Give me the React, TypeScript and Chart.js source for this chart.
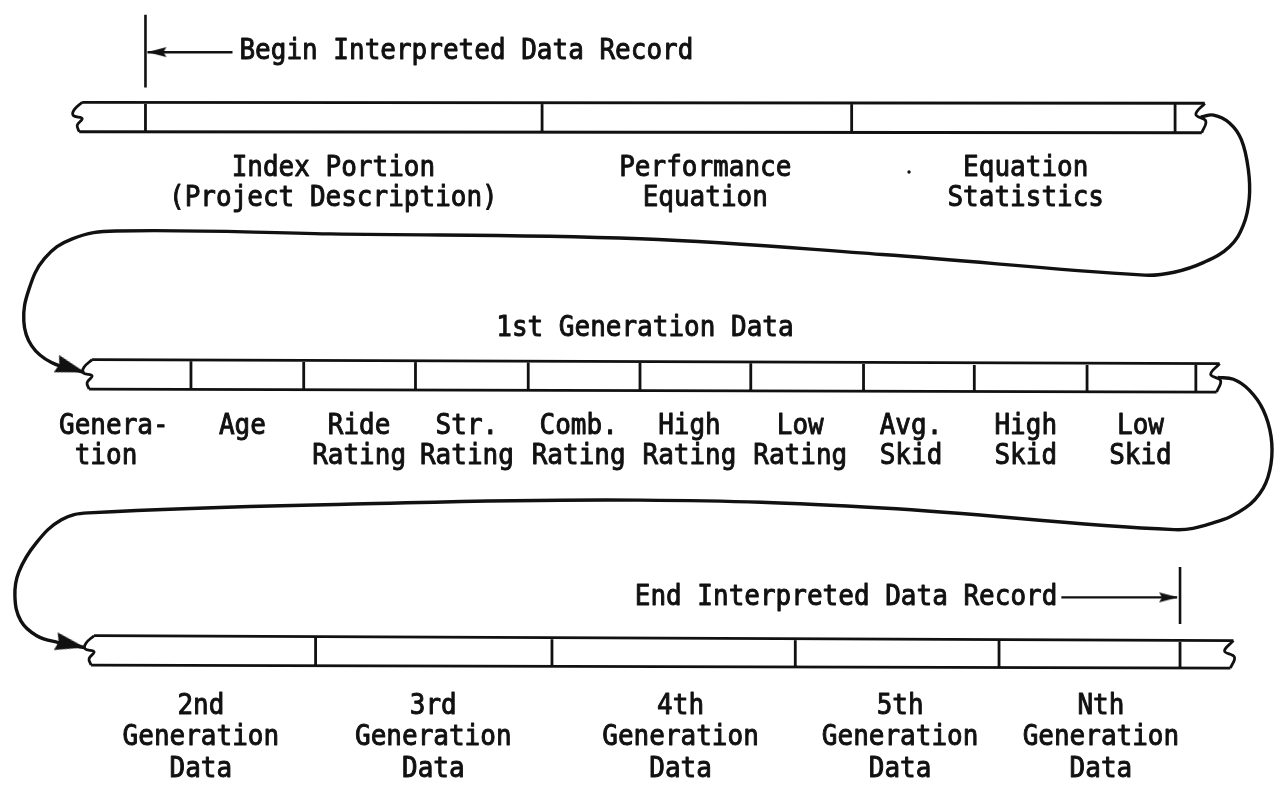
import React, { useEffect, useRef } from "react";
import { Chart, registerables } from "chart.js";

Chart.register(...registerables);

// ---- data (pixel space of a 1280 x 791 diagram) ----
const rowLeft = [76, 86, 88];
const rowRight = [1211, 1226, 1240];
const rowTopL = [97, 359, 640];
const rowTopR = [98, 363, 645];
const rowBottomL = [127, 389, 670];
const rowBottomR = [128, 392, 673];

const row1Dividers = [140, 541, 854, 1181];
const row2Dividers = [186, 300, 413, 527, 640, 752, 866, 978, 1092, 1202];
const row3Dividers = [312, 551, 797, 1003, 1186];

const leftNotchDX = [0, -8, -9, 0, -5, -3];
const leftNotchFY = [0, 0.25, 0.45, 0.55, 0.78, 1];
const rightNotchDX = [0, -9, 1, -3];
const rightNotchFY = [0, 0.38, 0.6, 1];

const loop1X = [1207, 1220, 1236, 1248, 1255, 1256, 1250, 1236, 1210, 1180, 1150, 885, 640, 327, 110, 66, 38, 22, 17, 25, 45, 78];
const loop1Y = [112, 110, 118, 135, 165, 195, 222, 244, 260, 270, 273, 252, 236, 231, 228, 236, 256, 288, 320, 345, 362, 372];
const loop2X = [1224, 1240, 1256, 1270, 1278, 1278, 1270, 1252, 1220, 1180, 885, 640, 350, 82, 55, 30, 12, 8, 14, 30, 52, 78];
const loop2Y = [377, 379, 390, 410, 437, 465, 490, 510, 525, 532, 510, 502, 506, 515, 522, 545, 575, 600, 625, 640, 647, 652];

const markerX = [140, 1186];
const markerY1 = [8, 570];
const markerY2 = [82, 628];
const pointerX1 = [228, 1066];
const pointerX2 = [142, 1183];
const pointerY = [46, 601];

const arrowTipX = [142, 1184, 79, 79];
const arrowTipY = [46, 601, 372, 652];
const arrowAngle = [180, 0, 17, 12];
const arrowBig = [false, false, true, true];

const speckX = [912];
const speckY = [168];

const headerTexts = ["Begin Interpreted Data Record", "End Interpreted Data Record", "1st Generation Data"];
const headerX = [235, 1062, 645];
const headerY = [45, 601, 327];
const headerAlign = ["left", "right", "center"];

const row1Lines = [
  ["Index Portion", "(Project Description)"],
  ["Performance", "Equation"],
  ["Equation", "Statistics"],
];
const row1X = [330, 706, 1030];
const row1LineY = [164, 195];

const row2Lines = [
  ["Genera-", "tion "],
  ["Age"],
  ["Ride", "Rating"],
  ["Str.", "Rating"],
  ["Comb.", "Rating"],
  ["High", "Rating"],
  ["Low", "Rating"],
  ["Avg.", "Skid"],
  ["High", "Skid"],
  ["Low", "Skid"],
];
const row2X = [108, 238, 356, 465, 578, 690, 802, 914, 1030, 1146];
const row2LineY = [427, 458];

const row3Lines = [
  ["2nd", "Generation", "Data"],
  ["3rd", "Generation", "Data"],
  ["4th", "Generation", "Data"],
  ["5th", "Generation", "Data"],
  ["Nth", "Generation", "Data"],
];
const row3X = [196, 431, 681, 903, 1106];
const row3LineY = [712, 744, 776];

// ---- helpers ----
const INK = "#111111";
const FONT = '26px "DejaVu Sans Mono", "Liberation Mono", monospace';
const STRETCH = 1.1;

type P = { x: number; y: number | null };

function makeArrowHead(len: number, hw: number): HTMLCanvasElement {
  const c = document.createElement("canvas");
  c.width = 2 * len + 2;
  c.height = 2 * hw + 2;
  const g = c.getContext("2d")!;
  g.fillStyle = INK;
  g.beginPath();
  g.moveTo(len + 1, hw + 1);
  g.lineTo(1, 1);
  g.lineTo(4, hw + 1);
  g.lineTo(1, 2 * hw + 1);
  g.closePath();
  g.fill();
  return c;
}

function edgeY(i: number, x: number, top: boolean): number {
  const a = top ? rowTopL[i] : rowBottomL[i];
  const b = top ? rowTopR[i] : rowBottomR[i];
  const t = (x - rowLeft[i]) / (rowRight[i] - rowLeft[i]);
  return a + (b - a) * t;
}

function tapeBody(i: number, dividers: number[]): P[] {
  const pts: P[] = [];
  pts.push({ x: rowLeft[i], y: rowTopL[i] }, { x: rowRight[i], y: rowTopR[i] }, { x: NaN, y: null });
  const lb = rowLeft[i] + leftNotchDX[leftNotchDX.length - 1];
  const rb = rowRight[i] + rightNotchDX[rightNotchDX.length - 1];
  pts.push({ x: lb, y: rowBottomL[i] }, { x: rb, y: rowBottomR[i] }, { x: NaN, y: null });
  dividers.forEach((d) => {
    pts.push({ x: d, y: edgeY(i, d, true) }, { x: d, y: edgeY(i, d, false) }, { x: NaN, y: null });
  });
  return pts;
}

function tapeEnds(i: number): P[] {
  const hl = rowBottomL[i] - rowTopL[i];
  const hr = rowBottomR[i] - rowTopR[i];
  const pts: P[] = [];
  leftNotchDX.forEach((dx, k) => pts.push({ x: rowLeft[i] + dx, y: rowTopL[i] + leftNotchFY[k] * hl }));
  pts.push({ x: NaN, y: null });
  rightNotchDX.forEach((dx, k) => pts.push({ x: rowRight[i] + dx, y: rowTopR[i] + rightNotchFY[k] * hr }));
  return pts;
}

function zipXY(xs: number[], ys: number[]): P[] {
  return xs.map((x, k) => ({ x, y: ys[k] }));
}

function put(ctx: CanvasRenderingContext2D, t: string, px: number, py: number) {
  ctx.save();
  ctx.translate(px, py);
  ctx.scale(1, STRETCH);
  ctx.fillText(t, 0, 0);
  ctx.strokeText(t, 0, 0);
  ctx.restore();
}

function drawBlock(ctx: CanvasRenderingContext2D, sx: any, sy: any, lines: string[], x: number, ys: number[]) {
  lines.forEach((t, k) => {
    if (t) put(ctx, t, sx.getPixelForValue(x), sy.getPixelForValue(ys[k]));
  });
}

const textPlugin = {
  id: "diagramText",
  beforeDraw(chart: any) {
    const { ctx, width, height } = chart;
    ctx.save();
    ctx.fillStyle = "#ffffff";
    ctx.fillRect(0, 0, width, height);
    ctx.restore();
  },
  afterDatasetsDraw(chart: any) {
    const { ctx } = chart;
    const sx = chart.scales.x;
    const sy = chart.scales.y;
    ctx.save();
    ctx.fillStyle = INK;
    ctx.strokeStyle = INK;
    ctx.lineWidth = 0.9;
    ctx.lineJoin = "round";
    ctx.font = FONT;
    ctx.textBaseline = "middle";
    headerTexts.forEach((t, k) => {
      ctx.textAlign = headerAlign[k];
      put(ctx, t, sx.getPixelForValue(headerX[k]), sy.getPixelForValue(headerY[k]));
    });
    ctx.textAlign = "center";
    row1Lines.forEach((ls, k) => drawBlock(ctx, sx, sy, ls, row1X[k], row1LineY));
    row2Lines.forEach((ls, k) => drawBlock(ctx, sx, sy, ls, row2X[k], row2LineY));
    row3Lines.forEach((ls, k) => drawBlock(ctx, sx, sy, ls, row3X[k], row3LineY));
    ctx.restore();
  },
};

export default function App() {
  const ref = useRef<HTMLCanvasElement>(null);

  useEffect(() => {
    document.body.style.margin = "0";
    const canvas = ref.current!;
    const bigHead = makeArrowHead(30, 9);
    const smallHead = makeArrowHead(19, 5);

    const lineBase = {
      showLine: true,
      pointRadius: 0,
      borderColor: INK,
      backgroundColor: INK,
      fill: false,
      spanGaps: false,
      clip: false as any,
    };

    const datasets: any[] = [];
    const dividersByRow = [row1Dividers, row2Dividers, row3Dividers];
    dividersByRow.forEach((divs, i) => {
      datasets.push({ ...lineBase, label: `tape${i}`, data: tapeBody(i, divs), borderWidth: 2.8, tension: 0 });
      datasets.push({ ...lineBase, label: `ends${i}`, data: tapeEnds(i), borderWidth: 2.8, tension: 0.4 });
    });
    datasets.push({ ...lineBase, label: "loop1", data: zipXY(loop1X, loop1Y), borderWidth: 3.4, tension: 0.4 });
    datasets.push({ ...lineBase, label: "loop2", data: zipXY(loop2X, loop2Y), borderWidth: 3.4, tension: 0.4 });
    markerX.forEach((mx, k) => {
      datasets.push({ ...lineBase, label: `marker${k}`, data: [{ x: mx, y: markerY1[k] }, { x: mx, y: markerY2[k] }], borderWidth: 2.6, tension: 0 });
      datasets.push({ ...lineBase, label: `pointer${k}`, data: [{ x: pointerX1[k], y: pointerY[k] }, { x: pointerX2[k], y: pointerY[k] }], borderWidth: 2.4, tension: 0 });
    });
    arrowTipX.forEach((ax, k) => {
      datasets.push({
        label: `arrow${k}`,
        data: [{ x: ax, y: arrowTipY[k] }],
        showLine: false,
        pointRadius: 6,
        pointStyle: arrowBig[k] ? bigHead : smallHead,
        pointRotation: arrowAngle[k],
        clip: false,
      });
    });
    datasets.push({
      label: "speck",
      data: zipXY(speckX, speckY),
      showLine: false,
      pointRadius: 1.7,
      pointBorderWidth: 0,
      pointBackgroundColor: INK,
    });

    const chart = new Chart(canvas, {
      type: "scatter",
      data: { datasets },
      options: {
        animation: false,
        responsive: false,
        maintainAspectRatio: false,
        devicePixelRatio: 1,
        layout: { padding: 0 },
        events: [],
        plugins: { legend: { display: false }, tooltip: { enabled: false } },
        scales: {
          x: { type: "linear", min: 0, max: 1280, display: false },
          y: { type: "linear", min: 0, max: 791, reverse: true, display: false },
        },
      },
      plugins: [textPlugin],
    });
    return () => chart.destroy();
  }, []);

  return (
    <div style={{ width: 1280, height: 791, background: "#fff" }}>
      <canvas ref={ref} width={1280} height={791} style={{ display: "block" }} />
    </div>
  );
}
